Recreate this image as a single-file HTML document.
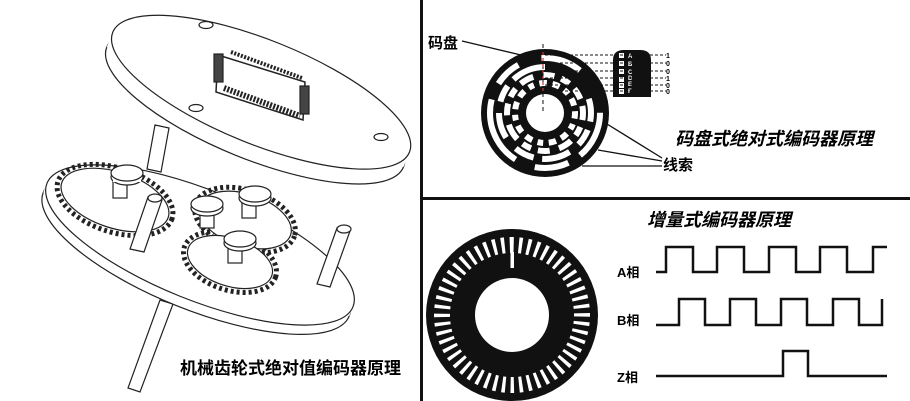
<!DOCTYPE html>
<html><head><meta charset="utf-8"><style>
body{margin:0;background:#fff}
svg{display:block}
text{font-family:"Liberation Sans","Noto Sans CJK SC",sans-serif;font-weight:bold}
</style></head><body>
<svg width="910" height="401" viewBox="0 0 910 401" xmlns="http://www.w3.org/2000/svg">
<rect width="910" height="401" fill="#fff"/>
<g fill="#fff" stroke="#222" stroke-width="1.2">
  <path d="M160 300 L173 304 L140 392 L128 388 Z"/>
  <g transform="rotate(22 200 245)">
    <ellipse cx="200" cy="255" rx="165" ry="55"/>
    <rect x="35" y="245" width="330" height="10" stroke="none"/>
    <ellipse cx="200" cy="245" rx="165" ry="55"/>
  </g>
  <g stroke-width="5" stroke-dasharray="3 3" fill="none">
    <ellipse cx="115" cy="200" rx="60" ry="32" transform="rotate(18 115 200)"/>
    <ellipse cx="245" cy="220" rx="52" ry="30" transform="rotate(18 245 220)"/>
    <ellipse cx="230" cy="262" rx="48" ry="28" transform="rotate(18 230 262)"/>
  </g>
  <g fill="#fff">
    <ellipse cx="115" cy="200" rx="56" ry="28" transform="rotate(18 115 200)"/>
    <ellipse cx="245" cy="220" rx="48" ry="26" transform="rotate(18 245 220)"/>
    <ellipse cx="230" cy="262" rx="44" ry="24" transform="rotate(18 230 262)"/>
  </g>
  <g>
    <rect x="113" y="180" width="14" height="18"/><ellipse cx="127" cy="177" rx="16" ry="8"/><rect x="113" y="176" width="28" height="6" stroke="none"/><ellipse cx="127" cy="173" rx="16" ry="8"/>
    <rect x="200" y="210" width="14" height="18"/><ellipse cx="207" cy="208" rx="16" ry="8"/><ellipse cx="207" cy="204" rx="16" ry="8"/>
    <rect x="242" y="200" width="14" height="18"/><ellipse cx="255" cy="198" rx="16" ry="8"/><ellipse cx="255" cy="194" rx="16" ry="8"/>
    <rect x="228" y="245" width="14" height="18"/><ellipse cx="240" cy="243" rx="16" ry="8"/><ellipse cx="240" cy="239" rx="16" ry="8"/>
  </g>
  <path d="M148 197 L162 200 L144 252 L130 249 Z"/><ellipse cx="155" cy="198" rx="7" ry="4"/>
  <path d="M337 228 L350 231 L330 287 L317 284 Z"/><ellipse cx="344" cy="229" rx="7" ry="4"/>
  <path d="M155 125 L169 128 L161 172 L147 169 Z"/>
  <g transform="rotate(22 260 95)">
    <ellipse cx="260" cy="108" rx="160" ry="52"/>
    <rect x="100" y="92" width="320" height="16" stroke="none"/>
    <ellipse cx="260" cy="92" rx="160" ry="52"/>
  </g>
  <ellipse cx="206" cy="25" rx="7" ry="3.5"/>
  <ellipse cx="196" cy="108" rx="7" ry="3.5"/>
  <ellipse cx="381" cy="137" rx="7" ry="3.5"/>
  <path d="M218 55 L305 82 L303 120 L216 92 Z" stroke-width="1.5"/>
  <path d="M231 52 L302 78" stroke-dasharray="2 1.5" stroke-width="4" fill="none"/>
  <path d="M224 88 L300 116" stroke-dasharray="2 1.5" stroke-width="6" fill="none"/>
  <rect x="214" y="54" width="9" height="28" fill="#444"/>
  <rect x="300" y="86" width="9" height="28" fill="#444"/>
</g>
<text x="180" y="374" font-size="17">机械齿轮式绝对值编码器原理</text>

<rect x="420" y="0" width="3" height="401" fill="#111"/>
<rect x="420" y="197" width="490" height="3" fill="#111"/>

<circle cx="545" cy="113" r="64" fill="#111"/>
<g fill="none" stroke="#fff" stroke-width="6">
  <circle cx="545" cy="113" r="55" pathLength="100" stroke-dasharray="14 4 10 6 20 5 8 7 12 14"/>
  <circle cx="545" cy="113" r="46" pathLength="100" stroke-dasharray="8 3 6 4 10 3 7 5 9 4 6 3 12 20" stroke-dashoffset="5"/>
  <circle cx="545" cy="113" r="38" pathLength="100" stroke-dasharray="5 3 4 3 6 4 5 3 4 3 7 4 5 3 4 3 6 4 5 3 4 3" stroke-dashoffset="2"/>
  <circle cx="545" cy="113" r="30" pathLength="100" stroke-dasharray="4 3 3 3 4 3" stroke-dashoffset="1"/>
</g>
<circle cx="545" cy="113" r="19" fill="#fff"/>
<line x1="543" y1="44" x2="543" y2="113" stroke="#111" stroke-dasharray="4 3" stroke-width="1"/>
<line x1="543" y1="52" x2="543" y2="92" stroke="#c33" stroke-dasharray="3 3" stroke-width="1.2"/>
<path d="M613 97 L613 60 Q613 50 624 50 L640 50 Q651 50 651 60 L651 97 Z" fill="#111"/>
<g fill="#fff" font-size="6"><rect x="619" y="53" width="5" height="5"/><rect x="619" y="61" width="5" height="5"/><rect x="619" y="69" width="5" height="5"/><rect x="619" y="77" width="5" height="5"/><rect x="619" y="83" width="5" height="5"/><rect x="619" y="89" width="5" height="5"/>
<text x="628" y="58">A</text><text x="628" y="66">B</text><text x="628" y="74">C</text><text x="628" y="80">D</text><text x="628" y="86">E</text><text x="628" y="93">F</text></g>
<g stroke="#111" stroke-dasharray="3 2" stroke-width="1">
<line x1="545" y1="55" x2="666" y2="55"/><line x1="545" y1="63" x2="666" y2="63"/><line x1="545" y1="71" x2="666" y2="71"/><line x1="545" y1="78" x2="666" y2="78"/><line x1="545" y1="85" x2="666" y2="85"/><line x1="545" y1="91" x2="666" y2="91"/></g>
<g font-size="7"><text x="666" y="58">1</text><text x="666" y="66">0</text><text x="666" y="74">0</text><text x="666" y="81">1</text><text x="666" y="88">0</text><text x="666" y="94">0</text></g>
<text x="428" y="48" font-size="15">码盘</text>
<line x1="462" y1="41" x2="521" y2="55" stroke="#111" stroke-width="1.3"/>
<g stroke="#111" stroke-width="1.3"><line x1="607" y1="124" x2="662" y2="158"/><line x1="598" y1="150" x2="662" y2="161"/><line x1="582" y1="166" x2="662" y2="166"/></g>
<text x="663" y="170" font-size="15">线索</text>
<text x="675" y="145" font-size="18" font-style="italic">码盘式绝对式编码器原理</text>

<circle cx="512" cy="315" r="86" fill="#111"/>
<circle cx="512" cy="315" r="70" fill="none" stroke="#fff" stroke-width="16" pathLength="52" stroke-dasharray="0.4 0.6" stroke-dashoffset="0.2" transform="rotate(-90 512 315)"/>
<rect x="510.5" y="252" width="3.5" height="16" fill="#fff"/>
<circle cx="512" cy="315" r="37" fill="#fff"/>
<text x="647" y="226" font-size="18" font-style="italic">增量式编码器原理</text>
<g font-size="13"><text x="617" y="277">A相</text><text x="617" y="325">B相</text><text x="617" y="382">Z相</text></g>
<g fill="none" stroke="#111" stroke-width="2.5">
<path d="M656 272 H666 V247 H693 V272 H717 V247 H744 V272 H769 V247 H796 V272 H820 V247 H847 V272 H873 V247 H887"/>
<path d="M656 325 H679 V299 H705 V325 H730 V299 H756 V325 H781 V299 H807 V325 H833 V299 H859 V325 H882 V299"/>
<path d="M656 376 H783 V351 H808 V376 H887"/>
</g>
</svg>
</body></html>
